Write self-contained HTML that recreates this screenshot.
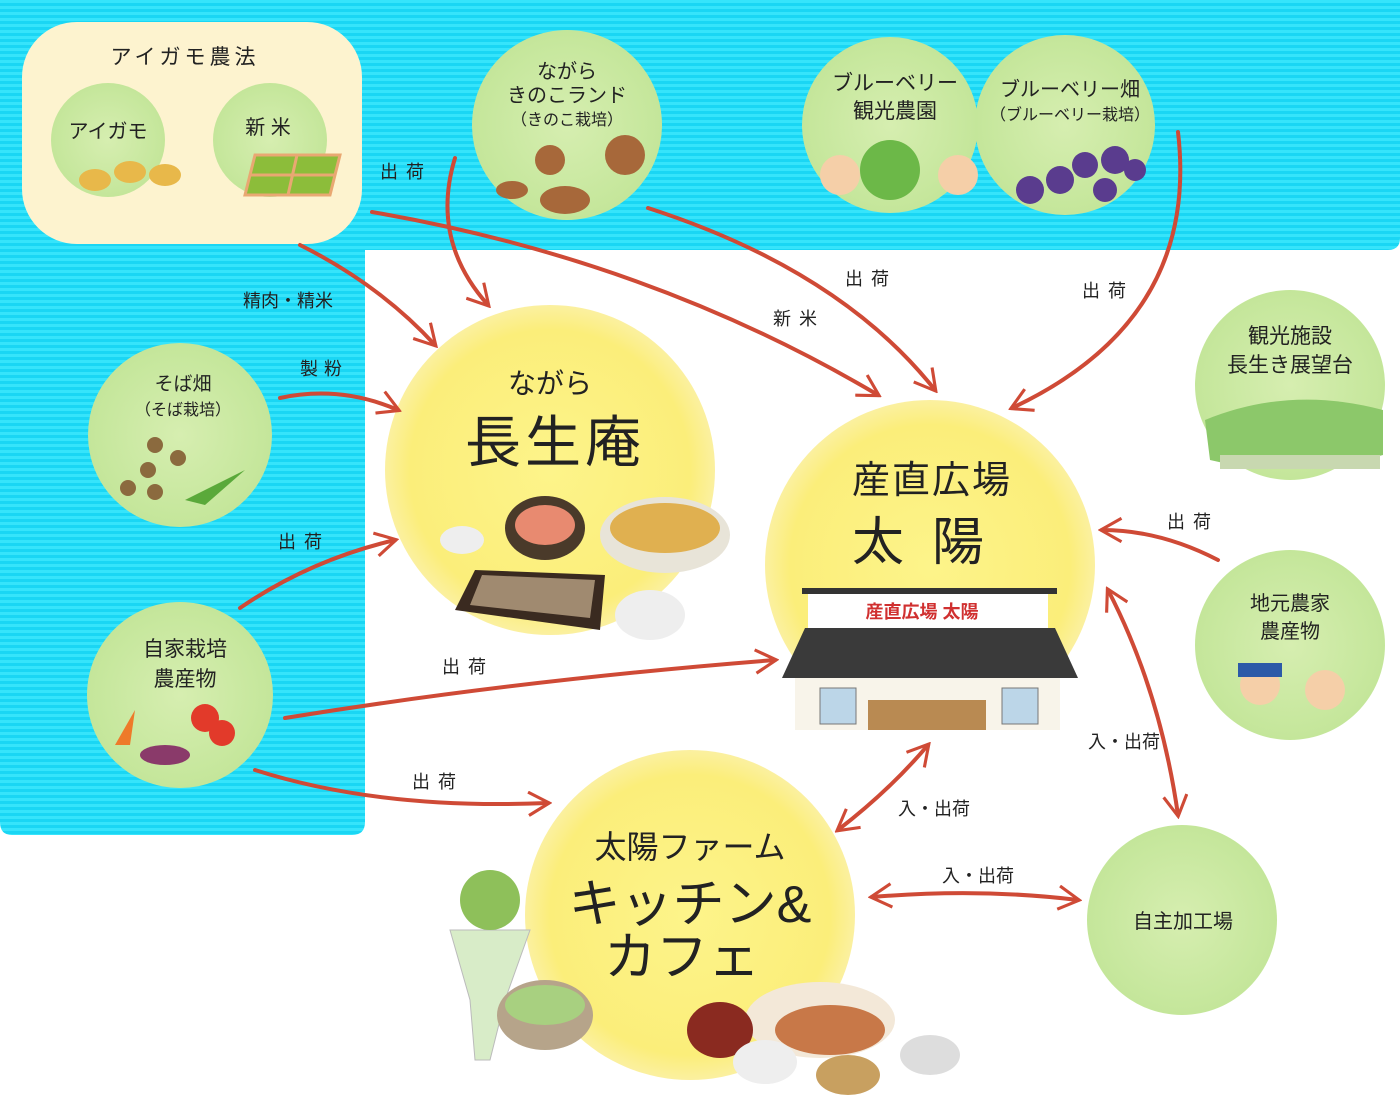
<!DOCTYPE html>
<html><head><meta charset="utf-8">
<style>
html,body{margin:0;padding:0;background:#fff;}
svg text{font-family:"Liberation Sans","Noto Sans CJK JP",sans-serif;fill:#222;}
</style></head>
<body>
<svg width="1400" height="1099" viewBox="0 0 1400 1099" xmlns="http://www.w3.org/2000/svg">
<defs>
<pattern id="st" width="6" height="6" patternUnits="userSpaceOnUse">
<rect width="6" height="6" fill="#1ad6f4"/><rect width="6" height="3" fill="#36e4fb"/>
</pattern>
<radialGradient id="yg" cx="0.5" cy="0.5" r="0.5"><stop offset="0" stop-color="#fdf48a"/><stop offset="0.85" stop-color="#fbee7a"/><stop offset="1" stop-color="#fbf0a0"/></radialGradient>
<radialGradient id="gg" cx="0.5" cy="0.5" r="0.5"><stop offset="0" stop-color="#d6eeb0"/><stop offset="1" stop-color="#c4e69a"/></radialGradient>
<marker id="ah" viewBox="0 0 20 20" refX="17" refY="10" markerWidth="26" markerHeight="26" orient="auto-start-reverse" markerUnits="userSpaceOnUse">
<path d="M2,1 L18,10 L2,19" fill="none" stroke="#cf4a36" stroke-width="2.4"/></marker>
</defs>
<path d="M0,0 H1400 V238 Q1400,250 1388,250 H365 V822 Q365,835 352,835 H12 Q0,835 0,822 Z" fill="url(#st)"/>
<rect x="22" y="22" width="340" height="222" rx="55" fill="#fdf3cf"/>
<text x="185" y="64" font-size="21" text-anchor="middle" letter-spacing="4">アイガモ農法</text>
<circle cx="108" cy="140" r="57" fill="url(#gg)"/>
<circle cx="270" cy="140" r="57" fill="url(#gg)"/>
<text x="108" y="138" font-size="20" text-anchor="middle">アイガモ</text>
<text x="268" y="134" font-size="20" text-anchor="middle">新 米</text>
<g fill="#e8b84a"><ellipse cx="95" cy="180" rx="16" ry="11"/><ellipse cx="130" cy="172" rx="16" ry="11"/><ellipse cx="165" cy="175" rx="16" ry="11"/></g>
<path d="M255,155 L340,155 L330,195 L245,195 Z" fill="#8cbd3a" stroke="#e9a872" stroke-width="3"/>
<path d="M297,155 L288,195 M250,175 L336,175" stroke="#e9a872" stroke-width="3"/>
<circle cx="567" cy="125" r="95" fill="url(#gg)"/>
<circle cx="890" cy="125" r="88" fill="url(#gg)"/>
<circle cx="1065" cy="125" r="90" fill="url(#gg)"/>
<circle cx="180" cy="435" r="92" fill="url(#gg)"/>
<circle cx="180" cy="695" r="93" fill="url(#gg)"/>
<circle cx="1290" cy="385" r="95" fill="url(#gg)"/>
<circle cx="1290" cy="645" r="95" fill="url(#gg)"/>
<circle cx="1182" cy="920" r="95" fill="url(#gg)"/>
<circle cx="550" cy="470" r="165" fill="url(#yg)"/>
<circle cx="930" cy="565" r="165" fill="url(#yg)"/>
<circle cx="690" cy="915" r="165" fill="url(#yg)"/>
<text font-size="20" text-anchor="middle"><tspan x="567" y="78">ながら</tspan><tspan x="567" y="102">きのこランド</tspan><tspan x="567" y="125" font-size="16">（きのこ栽培）</tspan></text>
<g fill="#a7683a"><circle cx="550" cy="160" r="15"/><circle cx="625" cy="155" r="20"/><ellipse cx="565" cy="200" rx="25" ry="14"/><ellipse cx="512" cy="190" rx="16" ry="9"/></g>
<text font-size="21" text-anchor="middle"><tspan x="895" y="90">ブルーベリー</tspan><tspan x="895" y="118">観光農園</tspan></text>
<text font-size="20" text-anchor="middle"><tspan x="1070" y="96">ブルーベリー畑</tspan><tspan x="1070" y="120" font-size="16">（ブルーベリー栽培）</tspan></text>
<g fill="#5a3c8e"><circle cx="1030" cy="190" r="14"/><circle cx="1060" cy="180" r="14"/><circle cx="1085" cy="165" r="13"/><circle cx="1115" cy="160" r="14"/><circle cx="1105" cy="190" r="12"/><circle cx="1135" cy="170" r="11"/></g>
<circle cx="890" cy="170" r="30" fill="#6cb848"/>
<circle cx="840" cy="175" r="20" fill="#f5cfa8"/><circle cx="958" cy="175" r="20" fill="#f5cfa8"/>
<text font-size="19" text-anchor="middle"><tspan x="183" y="390">そば畑</tspan><tspan x="183" y="415" font-size="16">（そば栽培）</tspan></text>
<g fill="#8b6a3e"><circle cx="155" cy="445" r="8"/><circle cx="178" cy="458" r="8"/><circle cx="148" cy="470" r="8"/><circle cx="128" cy="488" r="8"/><circle cx="155" cy="492" r="8"/></g>
<path d="M185,500 L245,470 L205,505 Z" fill="#5aa93a"/>
<text font-size="21" text-anchor="middle"><tspan x="185" y="656">自家栽培</tspan><tspan x="185" y="686">農産物</tspan></text>
<g><path d="M115,745 L135,710 L130,745Z" fill="#ee7a2a"/><circle cx="205" cy="718" r="14" fill="#e23a2a"/><circle cx="222" cy="733" r="13" fill="#e23a2a"/><ellipse cx="165" cy="755" rx="25" ry="10" fill="#8a3a6a"/></g>
<text font-size="21" text-anchor="middle"><tspan x="1290" y="343">観光施設</tspan><tspan x="1290" y="372">長生き展望台</tspan></text>
<path d="M1205,420 Q1290,385 1383,410 L1383,455 Q1290,480 1210,460 Z" fill="#8cc86a"/>
<rect x="1220" y="455" width="160" height="14" fill="#c8d8b0"/>
<text font-size="20" text-anchor="middle"><tspan x="1290" y="610">地元農家</tspan><tspan x="1290" y="638">農産物</tspan></text>
<circle cx="1260" cy="685" r="20" fill="#f5cfa8"/><circle cx="1325" cy="690" r="20" fill="#f5cfa8"/>
<rect x="1238" y="663" width="44" height="14" fill="#2c5aa8"/>
<text x="1183" y="928" font-size="20" text-anchor="middle">自主加工場</text>
<text x="550" y="393" font-size="28" text-anchor="middle">ながら</text>
<text x="555" y="462" font-size="56" text-anchor="middle" letter-spacing="4">長生庵</text>
<ellipse cx="545" cy="528" rx="40" ry="32" fill="#4a3a2a"/><ellipse cx="545" cy="525" rx="30" ry="20" fill="#e88a70"/>
<ellipse cx="665" cy="535" rx="65" ry="38" fill="#e8e4d8"/><ellipse cx="665" cy="528" rx="55" ry="25" fill="#e0b050"/>
<ellipse cx="462" cy="540" rx="22" ry="14" fill="#eee"/>
<path d="M455,610 L475,570 L605,575 L600,630 Z" fill="#3a2a20"/><path d="M470,605 L482,575 L595,580 L590,618Z" fill="#a08a70"/>
<ellipse cx="650" cy="615" rx="35" ry="25" fill="#eee"/>
<text x="932" y="493" font-size="38" text-anchor="middle" letter-spacing="2">産直広場</text>
<text x="932" y="560" font-size="52" text-anchor="middle" letter-spacing="28">太陽</text>
<rect x="802" y="588" width="255" height="6" fill="#333"/>
<rect x="808" y="594" width="240" height="34" fill="#fff"/>
<text x="922" y="618" font-size="18" text-anchor="middle" font-weight="bold" style="fill:#d03030">産直広場 太陽</text>
<path d="M805,628 L1055,628 L1078,678 L782,678 Z" fill="#3a3a3a"/>
<rect x="795" y="678" width="265" height="52" fill="#f8f4ea"/>
<rect x="820" y="688" width="36" height="36" fill="#bcd6e8" stroke="#777"/><rect x="1002" y="688" width="36" height="36" fill="#bcd6e8" stroke="#777"/>
<rect x="868" y="700" width="118" height="30" fill="#b98a52"/>
<text font-size="36" text-anchor="middle"><tspan x="690" y="858" font-size="32">太陽ファーム</tspan><tspan x="690" y="922" font-size="52">キッチン&amp;</tspan><tspan x="682" y="975" font-size="52">カフェ</tspan></text>
<path d="M450,930 L530,930 L505,1000 L490,1060 L475,1060 L470,1000 Z" fill="#d8ecc8" stroke="#bbb"/>
<circle cx="490" cy="900" r="30" fill="#8ec05a"/>
<ellipse cx="545" cy="1015" rx="48" ry="35" fill="#b6a48a"/><ellipse cx="545" cy="1005" rx="40" ry="20" fill="#a8d080"/>
<ellipse cx="820" cy="1020" rx="75" ry="38" fill="#f3e8d8"/><ellipse cx="830" cy="1030" rx="55" ry="25" fill="#c87848"/>
<ellipse cx="720" cy="1030" rx="33" ry="28" fill="#8a2a20"/><ellipse cx="765" cy="1062" rx="32" ry="22" fill="#eee"/><ellipse cx="848" cy="1075" rx="32" ry="20" fill="#c8a060"/><ellipse cx="930" cy="1055" rx="30" ry="20" fill="#ddd"/>
<g fill="none" stroke="#cf4a36" stroke-width="4" stroke-linecap="round" marker-end="url(#ah)">
<path d="M300,245 Q380,285 435,345"/>
<path d="M372,212 Q650,260 878,395"/>
<path d="M455,158 Q430,240 488,305"/>
<path d="M648,208 Q840,270 935,390"/>
<path d="M1178,132 Q1200,320 1012,408"/>
<path d="M280,398 Q340,385 398,410"/>
<path d="M240,608 Q310,560 395,540"/>
<path d="M285,718 Q520,680 775,660"/>
<path d="M255,770 Q380,810 548,803"/>
<path d="M1218,560 Q1160,530 1102,530"/>
<path d="M1178,815 Q1160,690 1108,590" marker-start="url(#ah)"/>
<path d="M838,830 Q890,790 928,745" marker-start="url(#ah)"/>
<path d="M872,897 Q980,888 1078,900" marker-start="url(#ah)"/>
</g>
<g font-size="18">
<text x="380" y="178" letter-spacing="8">出荷</text>
<text x="243" y="307">精肉・精米</text>
<text x="300" y="375" letter-spacing="6">製粉</text>
<text x="278" y="548" letter-spacing="8">出荷</text>
<text x="442" y="673" letter-spacing="8">出荷</text>
<text x="412" y="788" letter-spacing="8">出荷</text>
<text x="773" y="325" letter-spacing="8">新米</text>
<text x="845" y="285" letter-spacing="8">出荷</text>
<text x="1082" y="297" letter-spacing="8">出荷</text>
<text x="1167" y="528" letter-spacing="8">出荷</text>
<text x="1088" y="748">入・出荷</text>
<text x="898" y="815">入・出荷</text>
<text x="942" y="882">入・出荷</text>
</g>
</svg>
</body></html>
